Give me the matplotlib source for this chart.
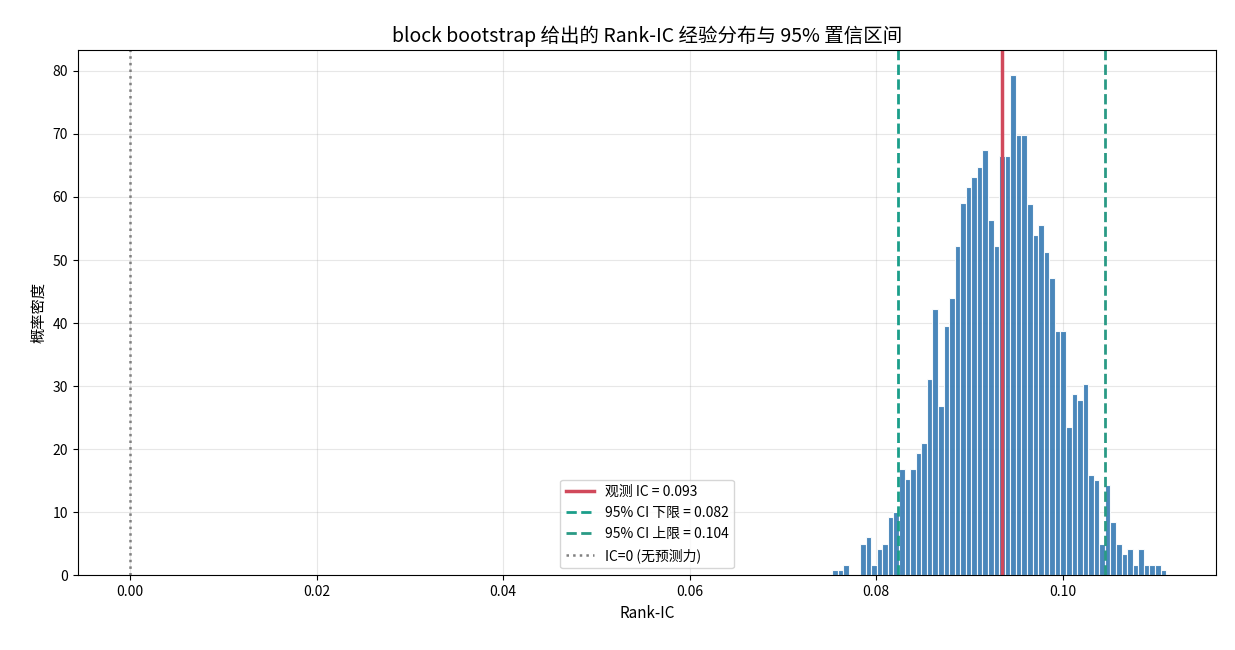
import numpy as np
import matplotlib
matplotlib.use("Agg")
import matplotlib.pyplot as plt

plt.rcParams['font.family'] = ['Noto Sans CJK SC', 'DejaVu Sans']
plt.rcParams['axes.unicode_minus'] = False

bin_start = 0.0753
bin_end = 0.1111
heights = [0.9, 0.9, 1.7, 0, 0, 5.0, 6.0, 1.7, 4.2, 5.0, 9.3, 10.1, 16.9, 15.2, 16.9,
           19.4, 21.0, 31.2, 42.2, 26.9, 39.6, 43.9, 52.3, 59.0, 61.5, 63.2, 64.8, 67.4,
           56.3, 52.3, 66.5, 66.5, 79.3, 69.8, 69.8, 58.9, 53.9, 55.6, 51.3, 47.2, 38.8,
           38.8, 23.5, 28.7, 27.8, 30.4, 15.9, 15.1, 5.0, 14.3, 8.5, 5.0, 3.3, 4.2, 1.7,
           4.2, 1.7, 1.7, 1.7, 0.9]
obs_ic = 0.0935
ci_low = 0.0823
ci_high = 0.1045

edges = np.linspace(bin_start, bin_end, len(heights) + 1)

fig, ax = plt.subplots(figsize=(12.35, 6.5), dpi=100)
ax.hist(edges[:-1], bins=edges, weights=heights, color='#3a7db5', alpha=0.92,
        edgecolor='white', linewidth=0.8)
ax.axvline(obs_ic, color='#d1495b', lw=2.5, label=f'观测 IC = {obs_ic:.3f}')
ax.axvline(ci_low, color='#1b9e8a', lw=2, ls='--', label=f'95% CI 下限 = {ci_low:.3f}')
ax.axvline(ci_high, color='#2a9a85', lw=2, ls='--', label=f'95% CI 上限 = {ci_high:.3f}')
ax.axvline(0, color='grey', lw=1.8, ls=':', label='IC=0 (无预测力)')

ax.set_xlim(-0.0056, 0.1165)
ax.set_ylim(0, 83.3)
ax.grid(True, alpha=0.3)
ax.set_axisbelow(True)
ax.set_xlabel('Rank-IC', fontsize=11)
ax.set_ylabel('概率密度', fontsize=11)
ax.set_title('block bootstrap 给出的 Rank-IC 经验分布与 95% 置信区间', fontsize=14)
ax.legend(loc='lower center', fontsize=10, bbox_to_anchor=(0.5, 0.0))
fig.subplots_adjust(left=0.063, right=0.985, top=0.923, bottom=0.115)
fig.savefig('out.png', dpi=100)
